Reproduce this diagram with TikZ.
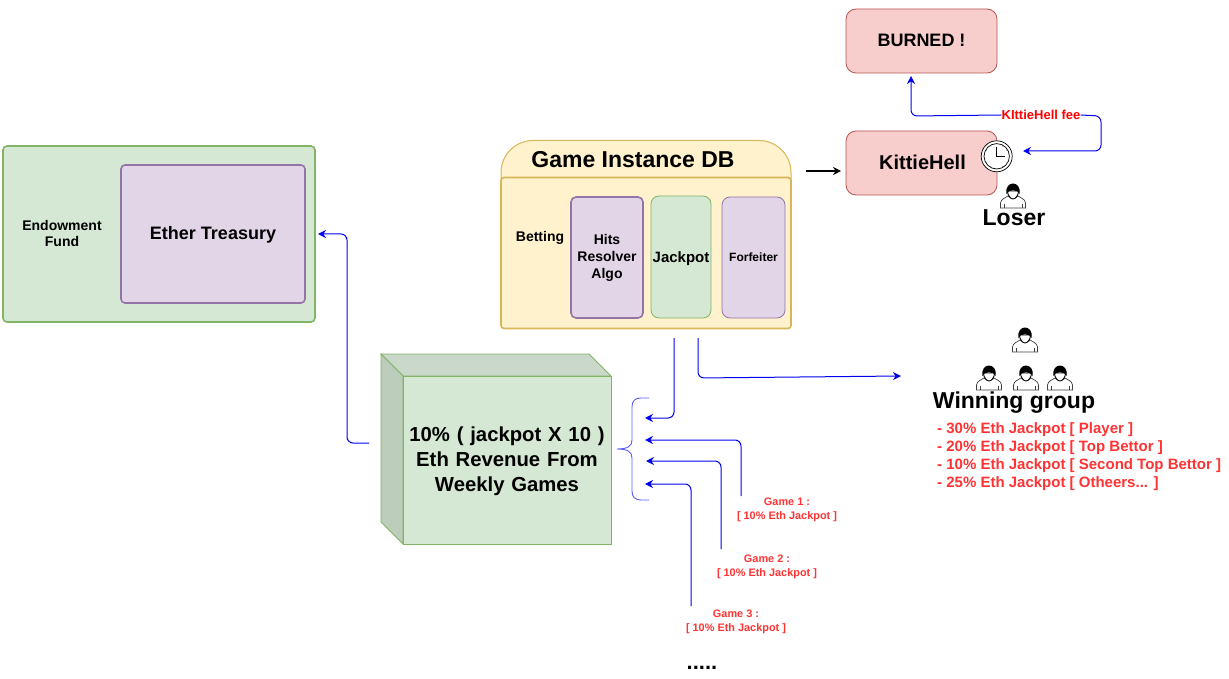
\documentclass[tikz,border=0pt]{standalone}
\usepackage{fontspec}
\setmainfont{Liberation Sans}
\usetikzlibrary{arrows.meta}
\definecolor{redfill}{HTML}{F8CECC}\definecolor{redline}{HTML}{B85450}
\definecolor{purfill}{HTML}{E1D5E7}\definecolor{purline}{HTML}{9673A6}
\definecolor{grnfill}{HTML}{D5E8D4}\definecolor{grnline}{HTML}{82B366}
\definecolor{yelfill}{HTML}{FFF2CC}\definecolor{yelline}{HTML}{D6B656}
\definecolor{grndark}{HTML}{C9D8C8}\definecolor{grnside}{HTML}{BCCDBB}
\definecolor{txtred}{HTML}{FF3333}\definecolor{conblue}{HTML}{0000F0}\definecolor{brace}{HTML}{5A5AFF}
\newcommand{\fs}[1]{\fontsize{#1}{#1}\selectfont\bfseries}
\tikzset{
 x=1pt,y=-1pt,
 boxbase/.style={draw,inner sep=0pt,align=center,text=black},
 redbox/.style={boxbase,fill=redfill,draw=redline,line width=.8pt,rounded corners=10pt,minimum width=151pt,minimum height=64pt},
 purbox/.style={boxbase,fill=purfill,draw=purline,rounded corners=8pt},
 grnbox/.style={boxbase,fill=grnfill,draw=grnline,rounded corners=8pt},
 label/.style={inner sep=0pt,align=center,text=black},
 redtext/.style={inner sep=0pt,align=center,text=txtred},
 conn/.style={draw=conblue,line width=1pt,rounded corners=6pt,-{Stealth[length=8pt,width=8pt]}},
 person/.pic={
  \draw[black!75,line width=.7pt,fill=white] (-12.5,12) -- (-12.5,7) .. controls (-12,3) and (-8,2) .. (-5,0) .. controls (-3,3) and (3,3) .. (5,0) .. controls (8,2) and (12,3) .. (12.5,7) -- (12.5,12) -- cycle;
  \draw[black!75,line width=.6pt] (-9,12) -- (-9,8) (9,12) -- (9,8);
  \draw[black,line width=.9pt,fill=white] (-5.5,-5) .. controls (-5.5,0) and (-2,3) .. (0,3) .. controls (2,3) and (5.5,0) .. (5.5,-5) -- cycle;
  \fill[black] (-6.5,-2) .. controls (-9,-16) and (9,-16) .. (6.5,-2) .. controls (5.5,-7) and (-5.5,-7) .. (-6.5,-2) -- cycle;
 }
}
\begin{document}
\begin{tikzpicture}
\useasboundingbox (0,0) rectangle (1229,679);
% Endowment
\node[boxbase,fill=grnfill,draw=grnline,line width=1.6pt,rounded corners=4pt,minimum width=312pt,minimum height=176pt] (endow) at (159,234) {};
\node[label,font=\fs{14},text width=90pt] (endowt) at (62,233) {Endowment\\[2pt]Fund};
\node[purbox,line width=1.6pt,rounded corners=4pt,minimum width=184pt,minimum height=138pt] (treasury) at (213,234) {};
\node[label,font=\fs{18}] (treasuryt) at (213,235) {Ether Treasury};
% Game instance
\draw[fill=yelfill,draw=yelline,line width=1pt,rounded corners=32pt] (501,195) -- (501,140.5) -- (791,140.5) -- (791,195);
\node[label,font=\fs{23}] (dbt) at (633,160) {Game Instance DB};
\node[boxbase,fill=yelfill,draw=yelline,line width=1.6pt,rounded corners=3pt,minimum width=290pt,minimum height=151pt] (db) at (646,253) {};
\node[label,font=\fs{14}] (bet) at (540,238) {Betting};
\node[purbox,line width=1.6pt,rounded corners=5pt,minimum width=72pt,minimum height=121pt,font=\fs{14},text width=72pt] (hits) at (607,257.5) {Hits\\[3pt]Resolver\\[3pt]Algo};
\node[grnbox,line width=.8pt,minimum width=60pt,minimum height=122pt] (jack) at (681,257) {};
\node[label,font=\fs{15}] (jackt) at (681,259) {Jackpot};
\node[purbox,line width=.8pt,minimum width=63pt,minimum height=121pt,font=\fs{12}] (forf) at (753.5,257.5) {Forfeiter};
% Kittie
\node[redbox,font=\fs{18}] (burned) at (921.5,41) {\raisebox{1pt}{BURNED !}};
\node[redbox,font=\fs{20}] (hell) at (921.5,163) {\hspace*{2pt}\raisebox{1pt}{KittieHell}};
% clock
\node[circle,draw=black,fill=white,line width=.7pt,minimum size=31pt,inner sep=0pt] (clock) at (996.7,156.3) {};
\draw[black,line width=.7pt] (clock.center) circle[radius=12.7pt];
\draw[black,line width=.7pt] (clock.center) ++(0,-9) -- (clock.center) -- ++(8,0);
\foreach \a in {30,60,120,150,210,240,300,330}{\draw[black!70,line width=.35pt] (clock.center) ++(\a:11.3) -- ++(\a:1.4);}
% people
\pic at (1013,196) {person};
\node[label,font=\fs{23}] (loser) at (1014,218) {Loser};
\pic at (1025,340) {person};
\pic at (989,378) {person};
\pic at (1026,378) {person};
\pic at (1060,378) {person};
\node[label,font=\fs{23}] (win) at (1014,403) {Winning group};
\node[anchor=west,inner sep=0pt,align=left,text=txtred,font=\fs{15}] (list) at (937,457) {- 30\% Eth Jackpot [ Player ]\\[3pt]- 20\% Eth Jackpot [ Top Bettor ]\\[3pt]- 10\% Eth Jackpot [ Second Top Bettor ]\\[3pt]- 25\% Eth Jackpot [ Otheers... ]};
% cube
\draw[fill=grndark,draw=grnline,line width=.8pt] (381,354) -- (589,354) -- (611,376) -- (403,376) -- cycle;
\draw[fill=grnside,draw=grnline,line width=.8pt] (381,354) -- (403,376) -- (403,544) -- (381,522) -- cycle;
\node[boxbase,fill=grnfill,draw=grnline,line width=.8pt,minimum width=208pt,minimum height=168pt] (cube) at (507,460) {};
\node[label,font=\fs{20.3},text width=208pt] (cubet) at (507,461) {10\% ( jackpot X 10 )\\[4.7pt]Eth Revenue From\\[4.7pt]Weekly Games};
% labels
\node[redtext,font=\fs{10.9}] (g1) at (787,510) {Game 1 :\\[3.3pt][ 10\% Eth Jackpot ]};
\node[redtext,font=\fs{10.9}] (g2) at (767,567) {Game 2 :\\[3.3pt][ 10\% Eth Jackpot ]};
\node[redtext,font=\fs{10.9}] (g3) at (736,622) {Game 3 :\\[3.3pt][ 10\% Eth Jackpot ]};
\node[label,font=\fs{22}] (dots) at (702,668) {.....};
\node[inner sep=0pt,text=red,font=\fs{13}] (fee) at (1041,115) {KIttieHell fee};
% coordinates
\coordinate (a1s) at (806,171); \coordinate (a1e) at (841,171);
\coordinate (cubeout) at (369,443); \coordinate (trin) at (318,234);
\coordinate (brs) at (649,398); \coordinate (bre) at (649,500); \coordinate (brt) at (617,449);
\coordinate (jout) at (674,338); \coordinate (jin) at (645,418);
\coordinate (wout) at (698,338); \coordinate (win2) at (901,376);
\coordinate (g1s) at (741,496); \coordinate (g1e) at (645,440);
\coordinate (g2s) at (721,549); \coordinate (g2e) at (646,461);
\coordinate (g3s) at (691,606); \coordinate (g3e) at (645,484);
\coordinate (burnin) at (911,76); \coordinate (clockin) at (1023,151);
% connectors
\draw[black,line width=1.4pt,-{Stealth[length=8pt,width=8pt]}] (a1s) -- (a1e);
\draw[conn] (cubeout) -- (347,443) -- (347,234) -- (trin);
\draw[conn] (jout) -- (674,418) -- (jin);
\draw[conn] (wout) -- (698,378) -- (win2);
\draw[conn] (g1s) -- (741,440) -- (g1e);
\draw[conn] (g2s) -- (721,461) -- (g2e);
\draw[conn] (g3s) -- (691,484) -- (g3e);
\draw[conn] (fee.west) -- (911,116) -- (burnin);
\draw[conn] (fee.east) -- (1101,116) -- (1101,151) -- (clockin);
\draw[draw=brace,line width=.9pt] (brs) -- (641,398) .. controls (635,398) and (632,401) .. (632,407) -- (632,440) .. controls (632,446) and (628,449) .. (brt) .. controls (628,449) and (632,452) .. (632,458) -- (632,491) .. controls (632,497) and (635,500) .. (641,500) -- (bre);
\end{tikzpicture}
\end{document}
